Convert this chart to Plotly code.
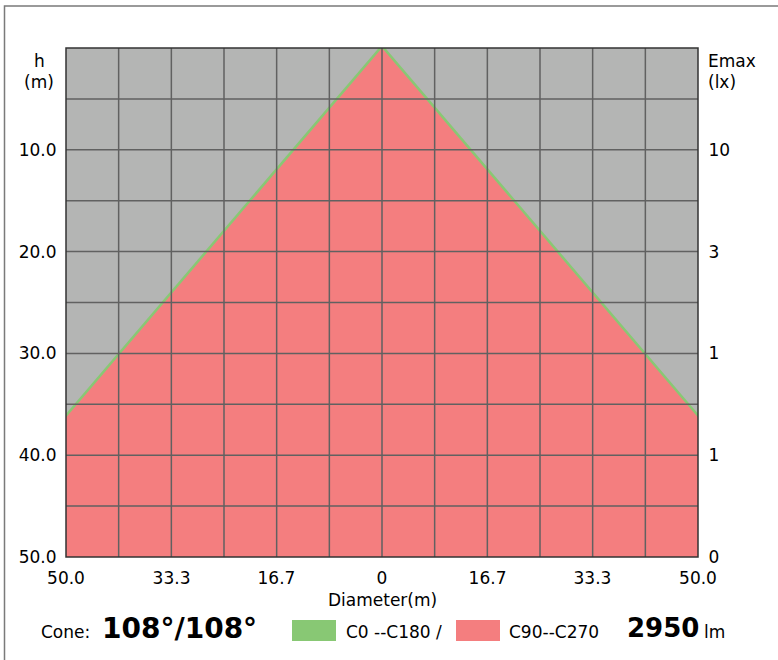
import plotly.graph_objects as go

# ---- data ----
diam_range = [-50.0, 50.0]          # diameter axis (m)
h_range = [0.0, 50.0]               # height axis (m)
x_tickvals = [-50.0, -33.3, -16.7, 0.0, 16.7, 33.3, 50.0]
x_ticktext = ["50.0", "33.3", "16.7", "0", "16.7", "33.3", "50.0"]
x_grid = [-50.0, -41.67, -33.33, -25.0, -16.67, -8.33, 0.0, 8.33, 16.67, 25.0, 33.33, 41.67, 50.0]
h_tickvals = [10, 20, 30, 40, 50]
h_ticktext = ["10.0", "20.0", "30.0", "40.0", "50.0"]
h_grid = [0, 5, 10, 15, 20, 25, 30, 35, 40, 45, 50]
emax_ticktext = ["10", "3", "1", "1", "0"]

# cone outline (C0-C180 and C90-C270 coincide)
cone_x = [-50.0, 0.0, 50.0]
cone_h = [36.3, 0.0, 36.3]

series_names = ["C0 --C180 /", "C90--C270"]
series_colors = ["#88C874", "#F47E7F"]
cone_label = "108°/108°"
lumen = "2950"

W, H = 778, 660
L, R, T, B = 66, 80, 48, 103
pw, ph = W - L - R, H - T - B


def px(x):
    return (x - L) / pw


def py(y):
    return (H - B - y) / ph


fig = go.Figure()

# green edge (C0-C180)
fig.add_trace(go.Scatter(
    x=cone_x, y=cone_h, mode="lines",
    line=dict(color=series_colors[0], width=5),
    hoverinfo="skip", showlegend=False,
))
# red fill (C90-C270)
fig.add_trace(go.Scatter(
    x=[diam_range[0]] + cone_x + [diam_range[1], diam_range[0]],
    y=[h_range[1]] + cone_h + [h_range[1], h_range[1]],
    mode="lines", fill="toself", fillcolor=series_colors[1],
    line=dict(width=0, color=series_colors[1]),
    hoverinfo="skip", showlegend=False,
))
# invisible trace for the right axis
fig.add_trace(go.Scatter(x=[0], y=[0], yaxis="y2", mode="markers",
                         marker=dict(opacity=0), hoverinfo="skip", showlegend=False))

shapes = []
grid_col = "#616161"
for gx in x_grid[1:-1]:
    shapes.append(dict(type="line", xref="x", yref="y", x0=gx, x1=gx,
                       y0=h_range[0], y1=h_range[1],
                       line=dict(color=grid_col, width=1.5), layer="above"))
for gy in h_grid[1:-1]:
    shapes.append(dict(type="line", xref="x", yref="y", x0=diam_range[0], x1=diam_range[1],
                       y0=gy, y1=gy,
                       line=dict(color=grid_col, width=1.5), layer="above"))
# plot border
shapes.append(dict(type="rect", xref="paper", yref="paper", x0=0, x1=1, y0=0, y1=1,
                   line=dict(color="#333333", width=1.5), layer="above"))
# outer frame
shapes.append(dict(type="rect", xref="paper", yref="paper", x0=px(4.5), x1=px(790),
                   y0=py(700), y1=py(6), line=dict(color="#7a7a7a", width=1.5),
                   fillcolor="rgba(0,0,0,0)", layer="below"))
# legend boxes
shapes.append(dict(type="rect", xref="paper", yref="paper", x0=px(292), x1=px(336),
                   y0=py(641), y1=py(620), fillcolor=series_colors[0], line=dict(width=0)))
shapes.append(dict(type="rect", xref="paper", yref="paper", x0=px(456), x1=px(500),
                   y0=py(641), y1=py(620), fillcolor=series_colors[1], line=dict(width=0)))

font = "DejaVu Sans, Verdana, sans-serif"
ann = []
FS = 17


def txt(text, x, y, size=FS, xanchor="left", bold=False):
    ann.append(dict(text=("<b>%s</b>" % text) if bold else text, xref="paper", yref="paper",
                    x=px(x), y=py(y), xanchor=xanchor, yanchor="middle", showarrow=False,
                    font=dict(size=size, color="#000000", family=font)))


txt("h", 39, 61, xanchor="center")
txt("(m)", 39, 82, xanchor="center")
txt("Emax", 706, 61)
txt("(lx)", 706, 82)
txt("Diameter(m)", 382, 600, xanchor="center")
txt("Cone:", 39, 632)
txt(cone_label, 100, 628, size=28, bold=True)
txt(series_names[0], 344, 632)
txt(series_names[1], 507, 632)
txt(lumen, 625, 628, size=26, bold=True)
txt("lm", 702, 632)

fig.update_layout(
    width=W, height=H,
    margin=dict(l=L, r=R, t=T, b=B, pad=0),
    paper_bgcolor="white", plot_bgcolor="#B4B5B4",
    showlegend=False,
    shapes=shapes, annotations=ann,
    font=dict(family=font, size=FS, color="#000000"),
    xaxis=dict(range=diam_range, tickvals=x_tickvals, ticktext=x_ticktext,
               showgrid=False, zeroline=False, showline=False,
               ticks="outside", ticklen=6, tickcolor="rgba(0,0,0,0)",
               tickfont=dict(size=FS)),
    yaxis=dict(range=h_range[::-1], tickvals=h_tickvals, ticktext=h_ticktext,
               showgrid=False, zeroline=False, showline=False,
               ticks="outside", ticklen=5, tickcolor="rgba(0,0,0,0)",
               tickfont=dict(size=FS)),
    yaxis2=dict(range=h_range[::-1], tickvals=h_tickvals, ticktext=emax_ticktext,
                overlaying="y", side="right",
                showgrid=False, zeroline=False, showline=False,
                ticks="outside", ticklen=6, tickcolor="rgba(0,0,0,0)",
                tickfont=dict(size=FS)),
)

fig.write_html("out.html", config={"displayModeBar": False},
               post_script="document.body.style.margin='0';document.body.style.overflow='hidden';")
